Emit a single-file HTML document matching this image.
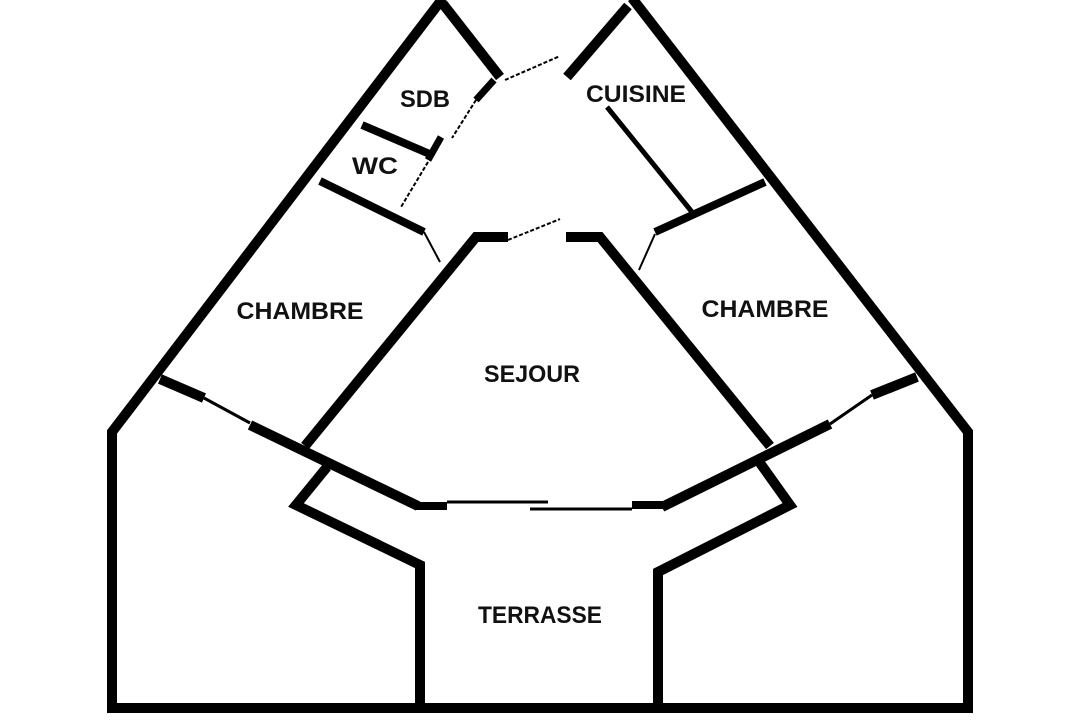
<!DOCTYPE html>
<html><head><meta charset="utf-8"><style>
html,body{margin:0;padding:0;background:#fff;}
svg{display:block}
text{font-family:"Liberation Sans",sans-serif;font-weight:bold;font-size:24px;fill:#111;text-anchor:middle}
</style></head><body>
<svg width="1080" height="720" viewBox="0 0 1080 720" xmlns="http://www.w3.org/2000/svg">
<g stroke="#000" fill="none" stroke-linejoin="miter" stroke-linecap="butt">
<polyline points="443,-2 112,432 112,708 968,708 968,432 632,-2" stroke-width="10"/>
<line x1="443" y1="4" x2="500" y2="77" stroke-width="10"/>
<line x1="567" y1="77" x2="628" y2="6" stroke-width="10"/>
<line x1="505" y1="80" x2="560" y2="56" stroke-width="2" stroke-dasharray="4,2"/>
<line x1="494" y1="80" x2="476" y2="100" stroke-width="7"/>
<line x1="476" y1="100" x2="452" y2="138" stroke-width="2" stroke-dasharray="4,2"/>
<line x1="441" y1="137" x2="428" y2="160" stroke-width="7"/>
<line x1="428" y1="162" x2="401" y2="207" stroke-width="2" stroke-dasharray="4,2"/>
<line x1="362" y1="125" x2="432" y2="155" stroke-width="8"/>
<line x1="320" y1="181" x2="424" y2="232" stroke-width="8"/>
<line x1="424" y1="232" x2="440" y2="262" stroke-width="2"/>
<polyline points="305,446 476,237 508,237" stroke-width="10"/>
<line x1="508" y1="240" x2="560" y2="219" stroke-width="2" stroke-dasharray="4,2"/>
<polyline points="566,237 600,237 770,446" stroke-width="10"/>
<line x1="607" y1="107" x2="692" y2="212" stroke-width="5"/>
<line x1="765" y1="182" x2="655" y2="232" stroke-width="8"/>
<line x1="655" y1="234" x2="639" y2="270" stroke-width="2"/>
<line x1="160" y1="379" x2="204" y2="398" stroke-width="10"/>
<line x1="204" y1="398" x2="250" y2="423" stroke-width="3"/>
<line x1="250" y1="425" x2="418" y2="506" stroke-width="10"/>
<line x1="415" y1="506" x2="447" y2="506" stroke-width="8"/>
<line x1="447" y1="502" x2="548" y2="502" stroke-width="3"/>
<line x1="530" y1="509" x2="632" y2="509" stroke-width="3"/>
<line x1="632" y1="505" x2="665" y2="505" stroke-width="8"/>
<line x1="662" y1="507" x2="830" y2="424" stroke-width="10"/>
<line x1="830" y1="424" x2="872" y2="395" stroke-width="3"/>
<line x1="872" y1="395" x2="917" y2="377" stroke-width="10"/>
<polyline points="327,467 296,505 420,565 420,710" stroke-width="10"/>
<polyline points="760,463 790,505 658,572 658,710" stroke-width="10"/>
</g>
<text x="425" y="107" textLength="50" lengthAdjust="spacingAndGlyphs">SDB</text>
<text x="375" y="174" textLength="46" lengthAdjust="spacingAndGlyphs">WC</text>
<text x="636" y="102" textLength="100" lengthAdjust="spacingAndGlyphs">CUISINE</text>
<text x="300" y="319" textLength="127" lengthAdjust="spacingAndGlyphs">CHAMBRE</text>
<text x="765" y="317" textLength="127" lengthAdjust="spacingAndGlyphs">CHAMBRE</text>
<text x="532" y="382" textLength="96" lengthAdjust="spacingAndGlyphs">SEJOUR</text>
<text x="540" y="623" textLength="124" lengthAdjust="spacingAndGlyphs">TERRASSE</text>
</svg>
</body></html>
